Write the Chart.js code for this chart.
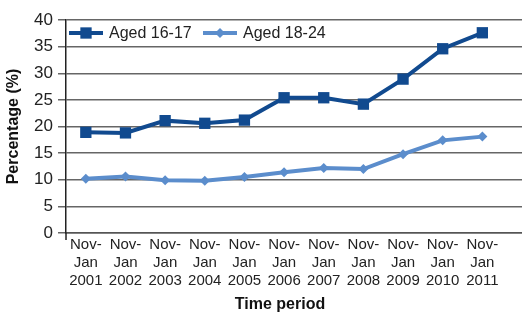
<!DOCTYPE html>
<html>
<head>
<meta charset="utf-8">
<script src="https://cdn.jsdelivr.net/npm/chart.js@4/dist/chart.umd.min.js"></script>
<style>
  html, body { margin: 0; padding: 0; background: #fff; }
  #wrap { width: 522px; height: 313px; }
</style>
</head>
<body>
<div id="wrap"><canvas id="chart"></canvas></div>
<script>
// data
const periods = [
  ["Nov-", "Jan", "2001"], ["Nov-", "Jan", "2002"], ["Nov-", "Jan", "2003"],
  ["Nov-", "Jan", "2004"], ["Nov-", "Jan", "2005"], ["Nov-", "Jan", "2006"],
  ["Nov-", "Jan", "2007"], ["Nov-", "Jan", "2008"], ["Nov-", "Jan", "2009"],
  ["Nov-", "Jan", "2010"], ["Nov-", "Jan", "2011"]
];
const seriesNames = ["Aged 16-17", "Aged 18-24"];
const aged1617 = [18.9, 18.8, 21.1, 20.6, 21.2, 25.4, 25.4, 24.2, 28.9, 34.6, 37.6];
const aged1824 = [10.2, 10.6, 9.9, 9.8, 10.5, 11.4, 12.2, 12.0, 14.8, 17.4, 18.1];
const yTicks = [0, 5, 10, 15, 20, 25, 30, 35, 40];
const xTitle = "Time period";
const yTitle = "Percentage (%)";

const darkBlue = "#114a8f";
const lightBlue = "#5b8dcc";
const sans = "'Liberation Sans', Arial, sans-serif";

const toPoints = (vals) => vals.map((v, i) => ({ x: i, y: v }));

// legend inside plot, x title, little axis stub below 0
const extras = {
  id: "extras",
  afterDraw(chart) {
    const ctx = chart.ctx;
    const area = chart.chartArea;
    ctx.save();
    ctx.strokeStyle = "#222";
    ctx.lineWidth = 1.5;
    ctx.beginPath();
    ctx.moveTo(area.left, area.bottom);
    ctx.lineTo(area.left, area.bottom + 7);
    ctx.stroke();

    const items = [
      { x: 69, ds: chart.data.datasets[0], r: 8 },
      { x: 203, ds: chart.data.datasets[1], r: 5 }
    ];
    const y = 33;
    items.forEach((it) => {
      ctx.strokeStyle = it.ds.borderColor;
      ctx.lineWidth = it.ds.borderWidth;
      ctx.beginPath();
      ctx.moveTo(it.x, y);
      ctx.lineTo(it.x + 34, y);
      ctx.stroke();
      ctx.fillStyle = it.ds.pointBackgroundColor;
      Chart.helpers.drawPoint(ctx, {
        pointStyle: it.ds.pointStyle, rotation: 0, borderWidth: 0, radius: it.r
      }, it.x + 17, y);
      ctx.fillStyle = "#222";
      ctx.font = "16px " + sans;
      ctx.textBaseline = "middle";
      ctx.textAlign = "left";
      ctx.fillText(it.ds.label, it.x + 40, y + 1);
    });
    ctx.font = "bold 16px " + sans;
    ctx.fillStyle = "#111";
    ctx.textAlign = "center";
    ctx.textBaseline = "middle";
    ctx.fillText(xTitle, 280, 305);
    ctx.restore();
  }
};

new Chart(document.getElementById("chart"), {
  type: "line",
  data: {
    datasets: [
      {
        label: seriesNames[0],
        data: toPoints(aged1617),
        borderColor: darkBlue,
        backgroundColor: darkBlue,
        pointBackgroundColor: darkBlue,
        pointBorderColor: darkBlue,
        borderWidth: 4,
        pointStyle: "rect",
        pointRadius: 8,
        pointBorderWidth: 0
      },
      {
        label: seriesNames[1],
        data: toPoints(aged1824),
        borderColor: lightBlue,
        backgroundColor: lightBlue,
        pointBackgroundColor: lightBlue,
        pointBorderColor: lightBlue,
        borderWidth: 4,
        pointStyle: "rectRot",
        pointRadius: 5,
        pointBorderWidth: 0
      }
    ]
  },
  options: {
    responsive: true,
    maintainAspectRatio: false,
    animation: false,
    layout: { autoPadding: false, padding: { top: 20, right: 0, bottom: 0, left: 0 } },
    plugins: {
      legend: { display: false },
      tooltip: { enabled: false }
    },
    scales: {
      x: {
        type: "linear",
        min: -0.5,
        max: 11,
        afterFit: (s) => { s.height = 80; },
        afterBuildTicks: (s) => {
          s.ticks = periods.map((p, i) => ({ value: i }));
        },
        grid: { display: false, drawTicks: false },
        border: { display: true, color: "#555", width: 1.5 },
        ticks: {
          autoSkip: false,
          maxRotation: 0,
          padding: 3,
          color: "#222",
          font: { family: sans, size: 15, lineHeight: 1.2 },
          callback: (v) => periods[v] || ""
        }
      },
      y: {
        min: 0,
        max: 40,
        afterFit: (s) => { s.width = 66; },
        afterBuildTicks: (s) => {
          s.ticks = yTicks.map((v) => ({ value: v }));
        },
        grid: { color: "#666", lineWidth: 1.5, tickLength: 8 },
        border: { display: true, color: "#222", width: 1.5 },
        ticks: {
          padding: 5,
          color: "#222",
          font: { family: sans, size: 17 }
        },
        title: {
          display: true,
          text: yTitle,
          color: "#111",
          padding: { top: 4, bottom: 0 },
          font: { family: sans, size: 16, weight: "bold" }
        }
      }
    }
  },
  plugins: [extras]
});
</script>
</body>
</html>
